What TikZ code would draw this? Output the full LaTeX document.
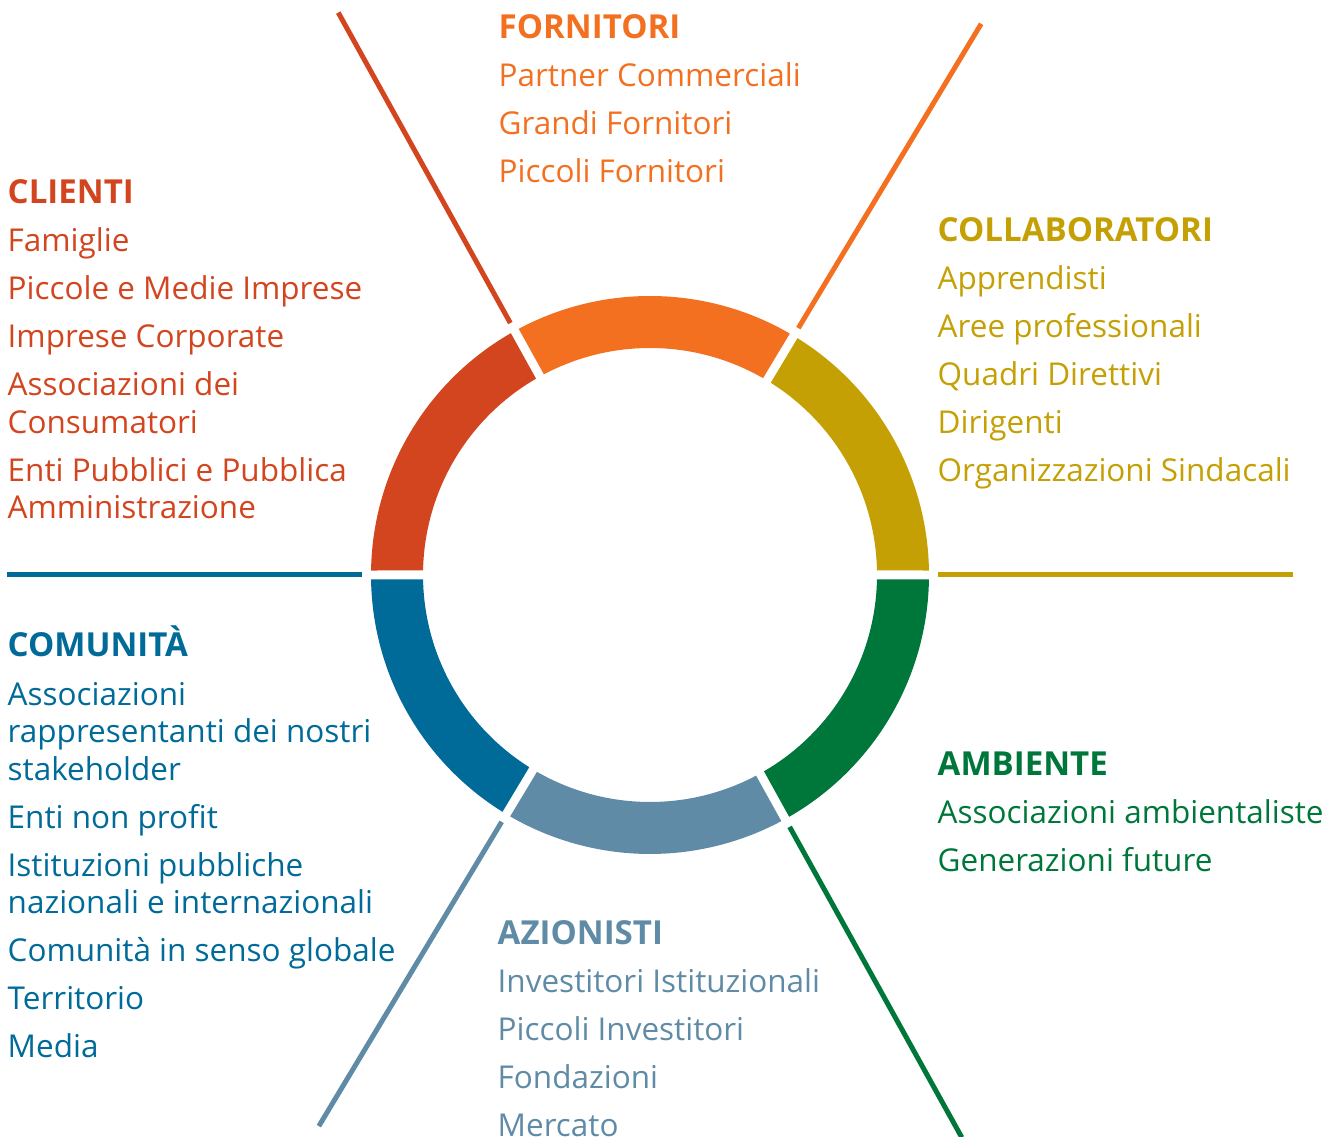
\documentclass[tikz,border=0pt]{standalone}
\usepackage{fontspec}
\setmainfont{Open Sans}
\usepackage{tikz}

\definecolor{arancio}{HTML}{F37021}
\definecolor{rosso}{HTML}{D2451E}
\definecolor{ocra}{HTML}{C4A004}
\definecolor{verde}{HTML}{00773A}
\definecolor{grigioblu}{HTML}{5F8BA6}
\definecolor{blu}{HTML}{006A99}

\newcommand{\titolo}[1]{{\fontsize{9.4}{10.67}\selectfont\bfseries #1}}

\tikzset{
  gruppo/.style={anchor=base west, inner sep=0pt, align=left,
    font=\fontsize{8.95}{10.67}\selectfont},
  raggio/.style={line width=1.42pt},
}

\begin{document}
\begin{tikzpicture}[x=0.01cm, y=0.01cm]
\useasboundingbox (0,0) rectangle (1339,1137);

\begin{scope}[shift={(650,562)}]
% anello
\fill[ocra] (0.92:279) arc[start angle=0.92, end angle=58.08, radius=279] -- (57.86:227) arc[start angle=57.86, end angle=1.14, radius=227] -- cycle;
\fill[arancio] (59.92:279) arc[start angle=59.92, end angle=118.08, radius=279] -- (117.86:227) arc[start angle=117.86, end angle=60.14, radius=227] -- cycle;
\fill[rosso] (119.92:279) arc[start angle=119.92, end angle=179.08, radius=279] -- (178.86:227) arc[start angle=178.86, end angle=120.14, radius=227] -- cycle;
\fill[blu] (180.92:279) arc[start angle=180.92, end angle=238.08, radius=279] -- (237.86:227) arc[start angle=237.86, end angle=181.14, radius=227] -- cycle;
\fill[grigioblu] (239.92:279) arc[start angle=239.92, end angle=298.08, radius=279] -- (297.86:227) arc[start angle=297.86, end angle=240.14, radius=227] -- cycle;
\fill[verde] (299.92:279) arc[start angle=299.92, end angle=359.08, radius=279] -- (358.86:227) arc[start angle=358.86, end angle=300.14, radius=227] -- cycle;

% raggi
\draw[raggio, ocra] (0:288) -- (0:643);
\draw[raggio, arancio] (59:288) -- (59:643);
\draw[raggio, rosso] (119:288) -- (119:643);
\draw[raggio, blu] (180:288) -- (180:643);
\draw[raggio, grigioblu] (239:288) -- (239:643);
\draw[raggio, verde] (299:288) -- (299:643);
\end{scope}

% blocchi di testo (ancorati all'ultima riga)
\node[gruppo, text=arancio] (fornitori) at (498,954) {\titolo{FORNITORI}\\[3pt]
  Partner Commerciali\\[3pt] Grandi Fornitori\\[3pt] Piccoli Fornitori};

\node[gruppo, text=rosso] (clienti) at (7,618.3) {\titolo{CLIENTI}\\[3pt]
  Famiglie\\[3pt] Piccole e Medie Imprese\\[3pt] Imprese Corporate\\[3pt]
  Associazioni dei\\ Consumatori\\[3pt] Enti Pubblici e Pubblica\\ Amministrazione};

\node[gruppo, text=ocra] (collaboratori) at (937,655) {\titolo{COLLABORATORI}\\[3pt]
  Apprendisti\\[3pt] Aree professionali\\[3pt] Quadri Direttivi\\[3pt]
  Dirigenti\\[3pt] Organizzazioni Sindacali};

\node[gruppo, text=blu] (comunita) at (7,79) {\titolo{COMUNITÀ}\\[3pt]
  Associazioni\\ rappresentanti dei nostri\\ stakeholder\\[3pt] Enti non profit\\[3pt]
  Istituzioni pubbliche\\ nazionali e internazionali\\[3pt]
  Comunità in senso globale\\[3pt] Territorio\\[3pt] Media};

\node[gruppo, text=verde] (ambiente) at (937,265.7) {\titolo{AMBIENTE}\\[3pt]
  Associazioni ambientaliste\\[3pt] Generazioni future};

\node[gruppo, text=grigioblu] (azionisti) at (497,0.5) {\titolo{AZIONISTI}\\[3pt]
  Investitori Istituzionali\\[3pt] Piccoli Investitori\\[3pt] Fondazioni\\[3pt] Mercato};
\end{tikzpicture}
\end{document}
